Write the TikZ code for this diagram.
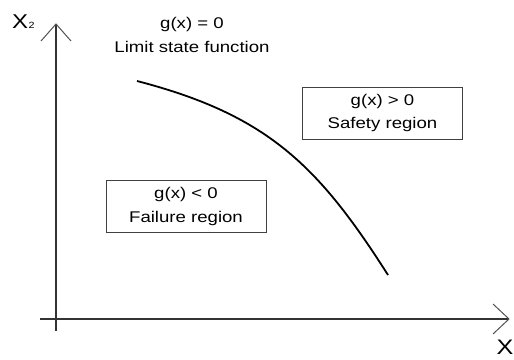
\documentclass[tikz,border=0pt]{standalone}
\usepackage{fontspec}
\setmainfont{Liberation Sans}[FakeStretch=1.2]
\definecolor{axisgray}{HTML}{333333}
\definecolor{boxgray}{HTML}{404040}
\begin{document}
\begin{tikzpicture}[x=1pt,y=-1pt,
  axis/.style={draw=axisgray, line width=1.1pt},
  tipline/.style={draw=axisgray!85, line width=1pt},
  regionbox/.style={draw=boxgray, line width=1pt, minimum width=160pt, minimum height=52pt, inner sep=0pt, align=center, font=\fontsize{15.5}{23.5}\selectfont},
  lbl/.style={inner sep=0pt, anchor=base, font=\fontsize{15.5}{18}\selectfont},
  curveline/.style={draw=black, line width=1.8pt}]
\useasboundingbox (0,0) rectangle (514,359);
% axes
\coordinate (ybot) at (56,331);
\coordinate (ytop) at (56,24);
\coordinate (yarmL) at (41,41);
\coordinate (yarmR) at (71,41);
\coordinate (xleft) at (40,319);
\coordinate (xright) at (509,319);
\coordinate (xarmU) at (493,304);
\coordinate (xarmD) at (493,334);
\draw[axis] (ybot) -- (ytop);
\draw[axis] (xleft) -- (xright);
\draw[tipline] (yarmL) -- (ytop) -- (yarmR);
\draw[tipline] (xarmU) -- (xright) -- (xarmD);
% axis labels
\node[inner sep=0pt, anchor=base west, font=\fontsize{20}{20}\selectfont] (x2lbl) at (12,28) {X\kern0.5pt{\fontsize{9}{9}\selectfont 2}};
\node[inner sep=0pt, anchor=base west, font=\fontsize{21}{21}\selectfont] (xlbl) at (496.5,354) {X};
% limit state curve
\coordinate (cstart) at (137,81);
\coordinate (cend) at (388,275);
\draw[curveline] (cstart) .. controls (267,114.8) and (318,165) .. (cend);
% labels
\node[lbl] (gzero) at (192,28) {g(x) = 0};
\node[lbl] (lsf) at (192,52) {Limit state function};
% region boxes
\node[regionbox] (safe) at (382.5,113) {g(x) > 0\\Safety region};
\node[regionbox] (fail) at (186,206.5) {g(x) < 0\\Failure region};
\end{tikzpicture}
\end{document}
